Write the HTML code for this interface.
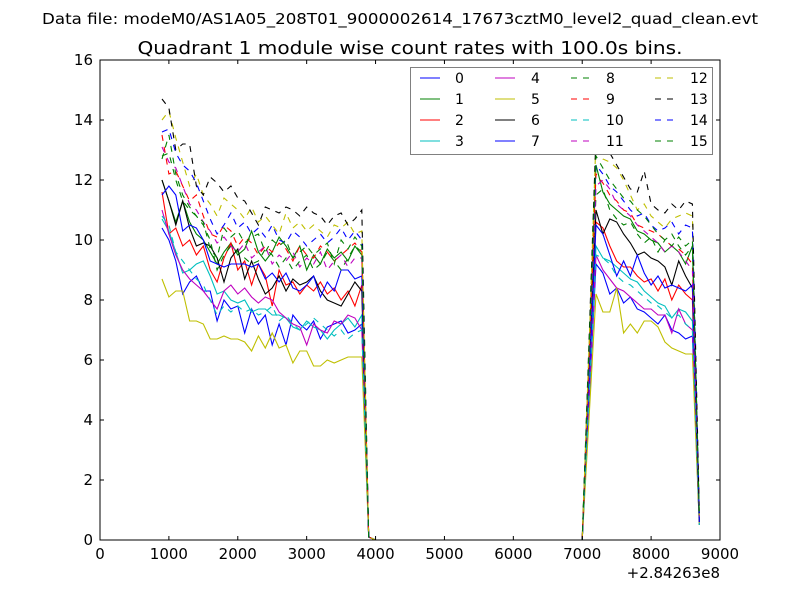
<!DOCTYPE html>
<html><head><meta charset="utf-8"><style>
html,body{margin:0;padding:0;background:#fff;}
svg{display:block;font-family:"DejaVu Sans","Liberation Sans",sans-serif;}
</style></head><body>
<svg id="chart" width="800" height="600" viewBox="0 0 800 600" xmlns="http://www.w3.org/2000/svg">
<rect x="0" y="0" width="800" height="600" fill="#fff"/>
<text x="400" y="24" text-anchor="middle" font-size="15" textLength="716" lengthAdjust="spacingAndGlyphs">Data file: modeM0/AS1A05_208T01_9000002614_17673cztM0_level2_quad_clean.evt</text>
<text x="410" y="54" text-anchor="middle" font-size="18" textLength="545" lengthAdjust="spacingAndGlyphs">Quadrant 1 module wise count rates with 100.0s bins.</text>
<g id="series"></g>
<g id="axes"></g>
<rect x="100" y="60" width="620" height="480" fill="none" stroke="#000" stroke-width="1"/>
<g id="legend"></g>
<text x="720" y="578" text-anchor="end" font-size="15">+2.84263e8</text>
</svg>
<script>
const xTicks=[0,1000,2000,3000,4000,5000,6000,7000,8000,9000];
const yTicks=[0,2,4,6,8,10,12,14,16];
const seriesNames=["0","1","2","3","4","5","6","7","8","9","10","11","12","13","14","15"];
const seriesColors=["#0000ff","#008000","#ff0000","#00bfbf","#bf00bf","#bfbf00","#000000","#0000ff","#008000","#ff0000","#00bfbf","#bf00bf","#bfbf00","#000000","#0000ff","#008000"];
const seriesDashed=[false,false,false,false,false,false,false,false,true,true,true,true,true,true,true,true];
const firstTime=900, binWidth=100;
const s0A=[10.4,10.0,9.3,8.2,8.6,8.8,8.3,8.3,7.3,8.0,7.7,7.8,6.9,7.7,7.2,7.5,6.5,7.2,6.5,7.5,7.2,7.0,7.3,6.7,7.1,7.2,7.3,6.9,7.0,7.2,0.1];
const s1A=[12.0,11.3,10.6,11.3,10.6,10.2,10.0,9.6,9.2,9.6,9.9,9.5,9.7,10.3,9.6,9.3,9.6,10.1,9.8,9.4,9.8,9.0,9.5,9.2,9.7,9.4,9.6,9.3,9.8,9.5,0.1];
const s2A=[11.6,10.2,10.4,9.8,10.0,9.5,9.8,9.0,8.6,9.4,9.9,9.0,9.3,8.5,9.2,8.8,7.8,9.0,8.5,8.6,8.2,8.5,8.3,8.6,8.2,8.4,8.0,8.3,7.8,8.5,0.1];
const s3A=[10.7,10.3,9.6,8.9,9.0,9.2,9.3,8.8,8.2,8.3,8.0,7.9,8.0,7.6,7.7,7.7,7.5,7.5,7.4,7.1,7.0,7.3,7.1,7.0,6.7,7.0,7.2,7.4,7.1,7.5,0.1];
const s4A=[11.0,10.2,9.5,9.0,8.7,8.5,8.3,8.0,7.7,8.3,8.5,8.2,8.4,8.1,7.9,8.1,8.0,7.6,7.4,7.2,7.1,6.5,7.2,7.0,6.9,7.3,7.2,7.5,7.4,7.0,0.1];
const s5A=[8.7,8.1,8.3,8.3,7.3,7.3,7.2,6.7,6.7,6.8,6.7,6.7,6.6,6.3,6.8,6.4,6.9,6.4,6.5,5.9,6.3,6.3,5.8,5.8,6.0,5.9,6.0,6.1,6.1,6.1,0.1];
const s6A=[12.0,11.3,10.5,11.3,10.4,9.8,9.9,9.8,9.4,8.6,9.4,9.7,8.7,9.3,8.7,8.2,8.4,8.8,8.3,8.7,8.5,8.6,8.8,8.3,8.0,7.9,7.8,8.2,8.6,8.3,0.1];
const s7A=[11.5,11.8,11.5,10.3,10.5,10.4,10.0,9.3,9.2,9.1,9.2,9.2,9.2,9.1,9.2,8.7,8.9,8.6,8.9,8.4,8.3,8.5,8.8,8.1,8.6,8.3,9.0,9.0,8.7,8.8,0.1];
const s8A=[12.7,13.5,12.2,11.5,11.1,10.8,10.5,10.0,9.0,9.5,9.8,9.6,9.4,9.2,9.3,9.7,9.5,9.1,9.4,9.0,9.3,9.5,9.0,9.2,9.6,9.3,9.0,9.4,9.8,9.6,0.1];
const s9A=[13.5,12.2,12.3,11.8,11.3,11.5,10.8,10.2,10.1,10.5,10.3,9.8,10.1,9.9,9.5,9.8,9.6,9.9,9.7,9.3,9.8,9.5,9.4,9.8,9.6,9.3,9.5,9.7,9.9,9.6,0.1];
const s10A=[10.8,10.5,9.6,9.3,9.0,8.7,8.5,8.0,7.5,7.8,7.6,7.8,7.6,7.7,7.5,7.6,7.8,7.3,7.5,7.2,7.0,7.2,7.4,7.2,7.0,6.8,7.0,6.7,6.9,7.0,0.1];
const s11A=[13.1,12.6,12.4,11.8,11.2,11.0,10.6,10.3,9.9,10.1,9.8,9.6,9.9,9.4,9.6,9.8,9.2,9.5,9.3,9.6,9.1,9.4,9.2,9.6,9.0,9.3,9.5,9.1,9.4,9.4,0.1];
const s12A=[14.0,14.3,13.4,12.6,11.8,12.2,11.5,11.2,10.8,11.4,11.2,11.0,10.7,11.1,10.6,10.8,10.5,10.2,10.9,10.4,10.6,10.3,10.5,10.3,10.1,10.5,10.4,10.6,10.2,10.3,0.1];
const s13A=[14.7,14.4,13.0,13.2,13.2,11.8,11.5,12.1,11.9,11.6,11.8,11.4,11.3,10.9,10.5,11.1,11.0,10.9,11.1,11.0,10.8,11.1,10.9,10.8,10.5,10.8,10.9,10.5,10.7,11.0,0.1];
const s14A=[13.6,13.7,12.9,12.5,12.3,11.9,11.3,10.7,10.2,10.5,10.9,10.4,10.6,10.2,10.4,10.1,10.5,10.0,9.9,10.3,10.1,9.8,10.0,10.2,9.9,10.1,10.4,10.0,10.3,10.0,0.1];
const s15A=[12.8,12.9,12.0,11.3,11.0,10.8,10.6,9.7,9.4,10.4,10.1,10.3,9.9,10.1,10.2,9.6,10.0,9.8,10.0,9.4,9.6,9.8,9.5,9.7,9.9,9.2,10.0,9.7,10.1,9.8,0.1];
const gapStart=4000, gapEnd=7000, gapValue=0;
const secondStart=7100;
const s0B=[4.6,9.2,8.9,8.2,8.4,7.9,8.1,7.7,7.6,7.4,7.2,7.5,7.0,6.9,6.7,6.8,0.5];
const s1B=[6.3,12.5,11.6,11.2,11.0,10.8,10.7,10.3,10.2,10.0,9.9,9.6,9.8,9.6,9.2,9.8,0.8];
const s2B=[5.3,10.6,10.4,9.8,9.3,9.1,9.1,8.8,8.6,8.7,8.3,8.7,8.0,8.5,8.2,8.0,0.6];
const s3B=[4.9,9.8,9.4,9.3,9.1,8.9,8.7,8.6,8.3,8.1,7.9,7.8,7.4,7.7,7.6,7.3,0.5];
const s4B=[4.8,9.5,9.0,8.7,8.4,8.3,8.1,7.9,7.7,7.7,7.5,7.5,6.9,7.7,7.2,7.0,0.5];
const s5B=[4.1,8.2,7.6,7.6,8.4,6.9,7.2,6.9,7.3,7.3,7.1,6.6,6.4,6.3,6.2,6.2,0.5];
const s6B=[5.5,11.0,10.2,10.7,10.6,10.2,9.9,9.5,9.6,9.4,9.3,9.1,8.5,9.3,8.8,8.4,0.6];
const s7B=[5.3,10.5,10.2,9.5,8.8,9.3,8.8,9.5,8.9,8.5,8.8,8.4,8.5,8.4,8.3,8.5,0.6];
const s8B=[5.8,11.5,11.7,11.0,10.7,10.5,10.6,10.2,9.9,10.1,9.6,10.0,10.2,9.8,9.5,9.8,0.7];
const s9B=[6.1,12.2,11.9,11.5,11.3,11.0,10.9,10.5,10.4,10.3,10.2,10.0,9.8,9.7,9.5,9.2,0.7];
const s10B=[4.8,9.5,9.4,9.2,8.8,8.6,8.5,8.3,8.1,7.9,7.8,7.6,7.4,7.5,7.2,7.0,0.5];
const s11B=[5.9,11.8,12.0,11.7,11.2,11.0,10.8,10.5,10.3,10.1,9.9,9.6,9.8,9.6,9.3,9.0,0.7];
const s12B=[6.5,13.4,12.7,12.6,12.4,12.0,11.5,11.0,11.2,10.8,10.6,10.4,10.7,10.8,10.9,10.8,0.8];
const s13B=[6.7,13.5,13.2,12.9,12.5,12.1,11.7,11.6,12.3,11.2,11.0,10.9,11.2,11.0,11.3,11.2,0.9];
const s14B=[6.2,12.5,12.2,11.8,11.6,11.3,11.0,10.8,10.9,10.5,10.3,10.4,10.6,10.2,10.5,10.4,0.8];
const s15B=[6.4,12.8,12.4,12.0,11.7,11.4,11.3,11.0,10.8,10.5,10.2,10.0,9.8,10.1,9.8,10.0,0.8];
const segA=[s0A,s1A,s2A,s3A,s4A,s5A,s6A,s7A,s8A,s9A,s10A,s11A,s12A,s13A,s14A,s15A];
const segB=[s0B,s1B,s2B,s3B,s4B,s5B,s6B,s7B,s8B,s9B,s10B,s11B,s12B,s13B,s14B,s15B];

const NS="http://www.w3.org/2000/svg";
const X0=100,X1=720,Y0=540,Y1=60;
const xMin=0,xMax=9000,yMin=0,yMax=16;
function xs(v){return X0+(v-xMin)/(xMax-xMin)*(X1-X0);}
function ys(v){return Y0-(v-yMin)/(yMax-yMin)*(Y0-Y1);}
function mk(tag,attrs,parent){const e=document.createElementNS(NS,tag);for(const k in attrs)e.setAttribute(k,attrs[k]);parent.appendChild(e);return e;}

const sg=document.getElementById('series');
for(let i=0;i<segA.length;i++){
  const pts=[];
  segA[i].forEach((v,j)=>pts.push([firstTime+j*binWidth,v]));
  for(let t=gapStart;t<=gapEnd;t+=binWidth)pts.push([t,gapValue]);
  segB[i].forEach((v,j)=>pts.push([secondStart+j*binWidth,v]));
  const d=pts.map((p,k)=>(k?'L':'M')+xs(p[0]).toFixed(1)+' '+ys(p[1]).toFixed(1)).join(' ');
  const attrs={d:d,fill:'none',stroke:seriesColors[i],'stroke-width':1.1};
  if(seriesDashed[i])attrs['stroke-dasharray']='6,6';
  const p=mk('path',attrs,sg);
  
  
}

const ax=document.getElementById('axes');
xTicks.forEach(t=>{
  const x=xs(t);
  const a=mk('line',{x1:x,x2:x,y1:Y0,y2:Y0-4,stroke:'#000'},ax);
  
  
  const b=mk('line',{x1:x,x2:x,y1:Y1,y2:Y1+4,stroke:'#000'},ax);
  
  
  const tx=mk('text',{x:x,y:Y0+19,'text-anchor':'middle','font-size':15},ax);
  tx.textContent=t;
  
  
});
yTicks.forEach(t=>{
  const y=ys(t);
  const a=mk('line',{x1:X0,x2:X0+4,y1:y,y2:y,stroke:'#000'},ax);
  
  
  const b=mk('line',{x1:X1,x2:X1-4,y1:y,y2:y,stroke:'#000'},ax);
  
  
  const tx=mk('text',{x:X0-7,y:y+5,'text-anchor':'end','font-size':15},ax);
  tx.textContent=t;
  
  
});

const lg=document.getElementById('legend');
const box=mk('rect',{x:410.5,y:67.5,width:302,height:87,fill:'#fff',stroke:'#808080','stroke-width':1},lg);


const colLineX=[420,495,571,655];
const colTextX=[455,531,606,690];
for(let i=0;i<seriesNames.length;i++){
  const c=Math.floor(i/4),r=i%4;
  const y=78+r*21;
  const la={x1:colLineX[c],x2:colLineX[c]+20,y1:y,y2:y,stroke:seriesColors[i],'stroke-width':1.1};
  if(seriesDashed[i])la['stroke-dasharray']='6,6';
  const l=mk('line',la,lg);
  
  
  const t=mk('text',{x:colTextX[c],y:y+5,'font-size':14},lg);
  t.textContent=seriesNames[i];
  
  
}
</script>
</body></html>
